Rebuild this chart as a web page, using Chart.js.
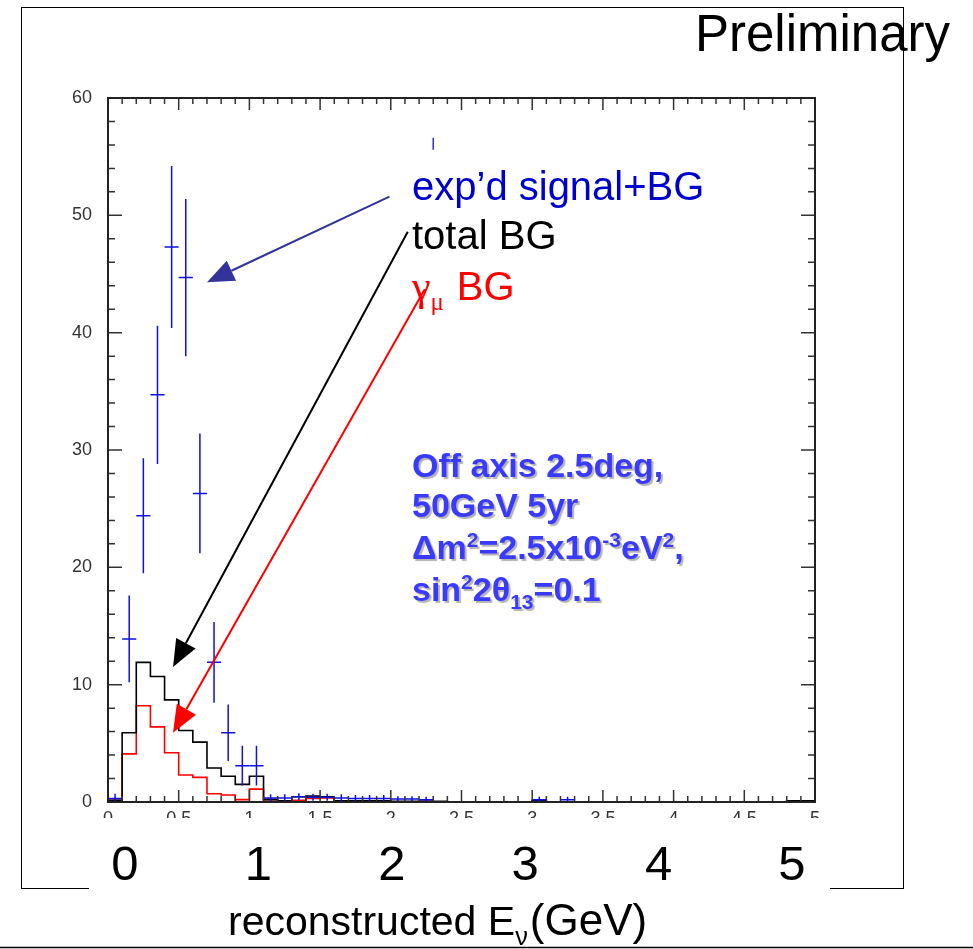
<!DOCTYPE html>
<html>
<head>
<meta charset="utf-8">
<script src="https://cdn.jsdelivr.net/npm/chart.js@4.4.0/dist/chart.umd.min.js"></script>
<style>
  body { margin: 0; background: #fff; }
  canvas { display: block; }
</style>
</head>
<body>
<canvas id="chart" width="973" height="949"></canvas>
<script>
// 0.1 GeV bins from 0 to 5 GeV
const binWidth = 0.1;

// total background (black histogram)
const totalBG = [
  0.15, 5.9, 11.9, 10.7, 8.7, 6.1, 5.1, 2.9, 2.2, 1.5,
  2.2, 0.2, 0.1, 0.45, 0.5, 0.45, 0.1, 0.1, 0.1, 0.1,
  0.05, 0.05, 0.05, 0.05, 0.02, 0.02, 0.02, 0.02, 0.02, 0.02,
  0.15, 0.02, 0.02, 0.02, 0.02, 0.02, 0.02, 0.02, 0.02, 0.02,
  0.02, 0.02, 0.02, 0.02, 0.02, 0.02, 0.02, 0.02, 0.1, 0.1
];

// nu_mu background (red histogram)
const numuBG = [
  0.15, 4.1, 8.2, 6.4, 4.2, 2.3, 2.1, 0.7, 0.6, 0.2,
  1.1, 0.2, 0.1, 0.15, 0.3, 0.35, 0.05, 0.05, 0.05, 0.05,
  0.02, 0.02, 0.05, 0.02, 0.02, 0.02, 0.02, 0.02, 0.02, 0.02,
  0.15, 0.02, 0.02, 0.02, 0.02, 0.02, 0.02, 0.02, 0.02, 0.02,
  0.02, 0.02, 0.02, 0.02, 0.02, 0.02, 0.02, 0.02, 0.1, 0.1
];

// expected signal + BG (blue points with error bars), null = no point
const signalBG = [
  0.3, 13.9, 24.4, 34.7, 47.3, 44.7, 26.3, 11.9, 5.9, 3.1,
  3.1, 0.35, 0.35, 0.45, 0.4, 0.4, 0.35, 0.3, 0.3, 0.3,
  0.25, 0.25, 0.2, null, null, null, null, null, null, null,
  0.2, null, 0.2
];
const signalErr = [
  0.4, 3.7, 4.9, 5.9, 6.9, 6.7, 5.1, 3.45, 2.4, 1.7,
  1.7, 0.3, 0.3, 0.3, 0.3, 0.3, 0.3, 0.3, 0.3, 0.3,
  0.25, 0.25, 0.25, null, null, null, null, null, null, null,
  0.25, null, 0.25
];

// lone blue mark near the top
const strayMark = [{ x: 2.3, y: 56.1 }];

const yTicks = [0, 10, 20, 30, 40, 50, 60];
const bigXLabels = ['0', '1', '2', '3', '4', '5'];

// arrows in data coordinates: [tail, head]
const arrows = [
  { from: [1.99, 51.6], to: [0.70, 44.3], color: '#333399' },
  { from: [2.12, 48.6], to: [0.46, 11.5], color: '#000000' },
  { from: [2.24, 43.7], to: [0.46, 5.9], color: '#ff0000' }
];

function histPoints(values) {
  const pts = [{ x: 0, y: 0 }];
  values.forEach((v, i) => pts.push({ x: i * binWidth, y: v }));
  pts.push({ x: values.length * binWidth, y: values[values.length - 1] });
  return pts;
}

const signalPoints = [];
signalBG.forEach((v, i) => {
  if (v !== null) signalPoints.push({ x: (i + 0.5) * binWidth, y: v, err: signalErr[i] });
});

const FONT = "'Liberation Sans', Arial, sans-serif";
const SERIF = "'Liberation Serif', 'Times New Roman', serif";

function drawRich(ctx, x, y, parts, size, weight, family) {
  let cx = x;
  parts.forEach(p => {
    const small = p.sup || p.sub;
    const s = small ? size * 0.62 : (p.size || size);
    ctx.font = `${weight} ${s}px ${p.family || family}`;
    const dy = p.sup ? -size * 0.36 : p.sub ? size * 0.24 : 0;
    ctx.fillText(p.t, cx, y + dy);
    cx += ctx.measureText(p.t).width + (p.gap || 0);
  });
}

function drawArrow(ctx, x1, y1, x2, y2, color) {
  const ang = Math.atan2(y2 - y1, x2 - x1);
  const len = 27, half = 11;
  const bx = x2 - len * Math.cos(ang), by = y2 - len * Math.sin(ang);
  ctx.strokeStyle = color;
  ctx.fillStyle = color;
  ctx.lineWidth = 2;
  ctx.beginPath();
  ctx.moveTo(x1, y1);
  ctx.lineTo(bx, by);
  ctx.stroke();
  ctx.beginPath();
  ctx.moveTo(x2, y2);
  ctx.lineTo(bx + half * Math.sin(ang), by - half * Math.cos(ang));
  ctx.lineTo(bx - half * Math.sin(ang), by + half * Math.cos(ang));
  ctx.closePath();
  ctx.fill();
}

const overlay = {
  id: 'overlay',
  beforeDraw(chart) {
    const ctx = chart.ctx;
    ctx.save();
    ctx.fillStyle = '#fff';
    ctx.fillRect(0, 0, chart.width, chart.height);
    ctx.restore();
  },
  afterDatasetsDraw(chart) {
    const ctx = chart.ctx;
    const xs = chart.scales.x, ys = chart.scales.y;
    const a = chart.chartArea;

    // error bars for signal+BG
    ctx.save();
    ctx.beginPath();
    ctx.rect(a.left, a.top, a.right - a.left, a.bottom - a.top);
    ctx.clip();
    ctx.strokeStyle = '#1010e0';
    ctx.lineWidth = 1.5;
    signalPoints.forEach(p => {
      const px = xs.getPixelForValue(p.x);
      const x0 = xs.getPixelForValue(p.x - binWidth / 2);
      const x1 = xs.getPixelForValue(p.x + binWidth / 2);
      const py = ys.getPixelForValue(p.y);
      ctx.beginPath();
      ctx.moveTo(px, ys.getPixelForValue(p.y - p.err));
      ctx.lineTo(px, ys.getPixelForValue(p.y + p.err));
      ctx.moveTo(x0, py);
      ctx.lineTo(x1, py);
      ctx.stroke();
    });
    ctx.restore();

    // frame with inward ticks
    ctx.save();
    ctx.strokeStyle = '#333';
    ctx.lineWidth = 1.5;
    ctx.beginPath();
    for (let i = 0; i <= 50; i++) {
      const px = xs.getPixelForValue(i * binWidth);
      const len = i % 5 === 0 ? 12 : 6;
      ctx.moveTo(px, a.bottom);
      ctx.lineTo(px, a.bottom - len);
      ctx.moveTo(px, a.top);
      ctx.lineTo(px, a.top + len);
    }
    for (let v = 0; v <= 60; v += 2) {
      const py = ys.getPixelForValue(v);
      const len = v % 10 === 0 ? 14 : 7;
      ctx.moveTo(a.left, py);
      ctx.lineTo(a.left + len, py);
      ctx.moveTo(a.right, py);
      ctx.lineTo(a.right - len, py);
    }
    ctx.stroke();
    ctx.lineWidth = 2;
    ctx.strokeStyle = '#222';
    ctx.strokeRect(a.left, a.top, a.right - a.left, a.bottom - a.top);
    ctx.restore();
  },
  afterDraw(chart) {
    const ctx = chart.ctx;
    const xs = chart.scales.x, ys = chart.scales.y;
    ctx.save();

    // arrows
    arrows.forEach(ar => {
      drawArrow(ctx,
        xs.getPixelForValue(ar.from[0]), ys.getPixelForValue(ar.from[1]),
        xs.getPixelForValue(ar.to[0]), ys.getPixelForValue(ar.to[1]), ar.color);
    });

    // legend-like labels
    ctx.textAlign = 'left';
    ctx.textBaseline = 'alphabetic';
    ctx.fillStyle = '#0000cc';
    ctx.font = `40px ${FONT}`;
    ctx.fillText('exp\u2019d signal+BG', 412, 200);
    ctx.fillStyle = '#000';
    ctx.fillText('total BG', 412, 249);
    ctx.fillStyle = '#ff0000';
    drawRich(ctx, 412, 300, [
      { t: '\u03b3', family: SERIF, size: 42 },
      { t: '\u03bc', family: SERIF, sub: true, gap: 13 },
      { t: 'BG' }
    ], 40, 'normal', FONT);

    // parameter box
    ctx.fillStyle = '#3a3aff';
    ctx.shadowColor = 'rgba(0,0,0,0.3)';
    ctx.shadowOffsetX = 2;
    ctx.shadowOffsetY = 2;
    ctx.shadowBlur = 1;
    const bs = 34;
    drawRich(ctx, 412, 477, [{ t: 'Off axis 2.5deg,' }], bs, 'bold', FONT);
    drawRich(ctx, 412, 517, [{ t: '50GeV 5yr' }], bs, 'bold', FONT);
    drawRich(ctx, 412, 559, [
      { t: '\u0394m' }, { t: '2', sup: true }, { t: '=2.5x10' }, { t: '-3', sup: true },
      { t: 'eV' }, { t: '2', sup: true }, { t: ',' }
    ], bs, 'bold', FONT);
    drawRich(ctx, 412, 601, [
      { t: 'sin' }, { t: '2', sup: true }, { t: '2\u03b8' }, { t: '13', sub: true }, { t: '=0.1' }
    ], bs, 'bold', FONT);
    ctx.shadowColor = 'transparent';
    ctx.shadowOffsetX = 0;
    ctx.shadowOffsetY = 0;
    ctx.shadowBlur = 0;

    // Preliminary
    ctx.fillStyle = '#000';
    ctx.font = `51px ${FONT}`;
    ctx.fillText('Preliminary', 695, 51);

    // outer frame
    ctx.strokeStyle = '#000';
    ctx.lineWidth = 1;
    ctx.strokeRect(21.5, 7.5, 882, 881);

    // white cover with big labels
    ctx.fillStyle = '#fff';
    ctx.fillRect(89, 818, 741, 80);
    ctx.fillStyle = '#000';
    ctx.font = `49px ${FONT}`;
    ctx.textAlign = 'center';
    bigXLabels.forEach((t, i) => ctx.fillText(t, 125 + i * 133.4, 880));

    // axis title
    ctx.textAlign = 'left';
    drawRich(ctx, 228, 935, [
      { t: 'reconstructed E' }, { t: '\u03bd', sub: true, gap: 2 }, { t: '(GeV)', size: 44 }
    ], 41, 'normal', FONT);

    ctx.lineWidth = 1.5;
    ctx.beginPath();
    ctx.moveTo(0, 947.5);
    ctx.lineTo(973, 947.5);
    ctx.stroke();
    ctx.restore();
  }
};

new Chart(document.getElementById('chart'), {
  type: 'line',
  data: {
    datasets: [
      {
        label: 'total BG',
        data: histPoints(totalBG),
        stepped: 'before',
        borderColor: '#000',
        borderWidth: 1.6,
        pointRadius: 0,
        fill: false
      },
      {
        label: 'numu BG',
        data: histPoints(numuBG),
        stepped: 'before',
        borderColor: '#ff0000',
        borderWidth: 1.6,
        pointRadius: 0,
        fill: false
      },
      {
        label: "exp'd signal+BG",
        type: 'scatter',
        data: signalPoints,
        pointRadius: 0,
        showLine: false
      },
      {
        label: 'mark',
        type: 'scatter',
        data: strayMark,
        pointStyle: 'line',
        rotation: 90,
        pointRadius: 6,
        borderColor: '#3030e0',
        borderWidth: 1.5
      }
    ]
  },
  options: {
    responsive: false,
    devicePixelRatio: 1,
    animation: false,
    layout: { padding: { left: 0, top: 98, right: 158, bottom: 117 } },
    plugins: { legend: { display: false }, tooltip: { enabled: false } },
    scales: {
      x: {
        type: 'linear',
        min: 0,
        max: 5,
        afterFit: s => { s.height = 30; },
        grid: { display: false, drawTicks: false },
        border: { display: false },
        ticks: {
          stepSize: 0.5,
          padding: 6,
          color: '#333',
          maxRotation: 0,
          font: { family: FONT, size: 18 },
          callback: v => String(Number(v.toFixed(1)))
        }
      },
      y: {
        min: 0,
        max: 60,
        afterFit: s => { s.width = 108; },
        afterBuildTicks: s => { s.ticks = yTicks.map(v => ({ value: v })); },
        grid: { display: false, drawTicks: false },
        border: { display: false },
        ticks: {
          padding: 16,
          color: '#333',
          font: { family: FONT, size: 18 }
        }
      }
    }
  },
  plugins: [overlay]
});
</script>
</body>
</html>
